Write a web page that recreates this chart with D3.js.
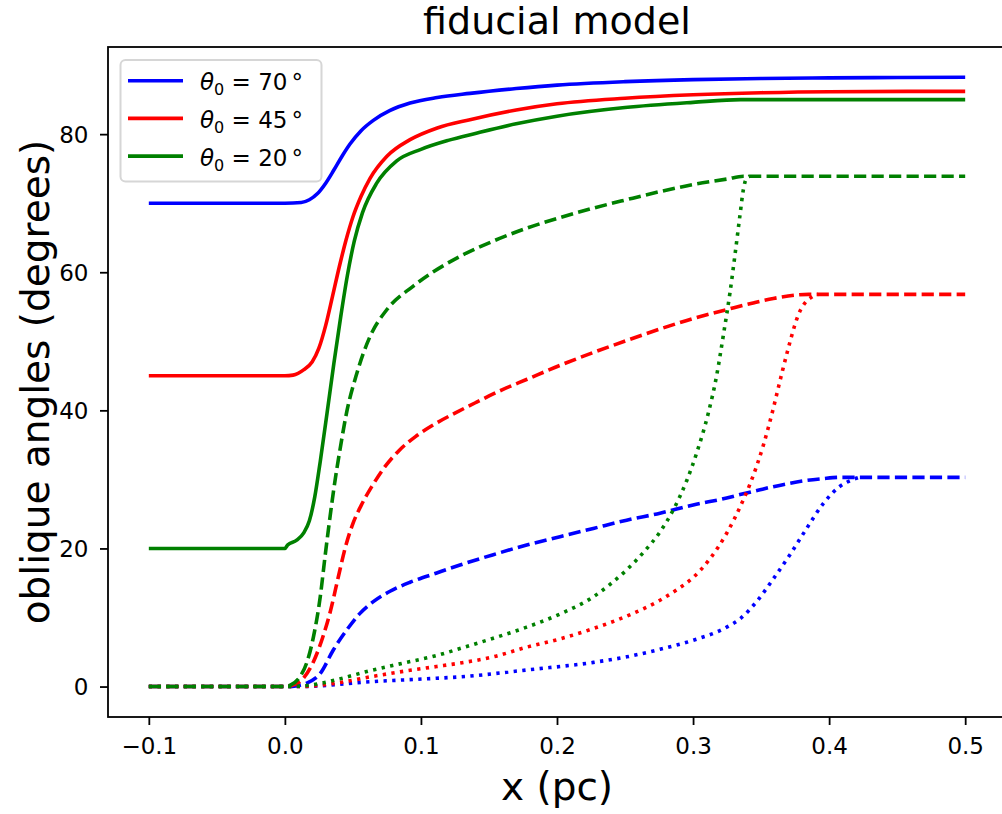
<!DOCTYPE html>
<html>
<head>
<meta charset="utf-8">
<script src="https://cdn.jsdelivr.net/npm/d3@7"></script>
<style>
  body { margin: 0; background: #fff; }
  svg { display: block; font-family: "DejaVu Sans", sans-serif; }
  .axis text { font-size: 23px; fill: #000; font-family: "DejaVu Sans", sans-serif; }
  .axis line { stroke: #000; stroke-width: 1.8; }
  .axis path { display: none; }
</style>
</head>
<body>
<div id="chart"></div>
<script>
// tick values
var xTicks = [-0.1, 0.0, 0.1, 0.2, 0.3, 0.4, 0.5];
var yTicks = [0, 20, 40, 60, 80];

// legend labels (initial angle)
var thetas = ["70", "45", "20"];

// solid curves, [x (pc), angle (deg)]
var solid70 = [[-0.1,70],[0,70],[0.012,70.1],[0.018,70.5],[0.024,71.4],[0.03,72.9],[0.036,74.8],[0.042,76.8],
  [0.048,78.6],[0.056,80.5],[0.065,82.0],[0.077,83.4],[0.092,84.5],[0.112,85.3],[0.136,85.9],[0.17,86.6],
  [0.2,87.1],[0.25,87.6],[0.3,87.9],[0.35,88.05],[0.4,88.15],[0.45,88.2],[0.5,88.25]];
var solid45 = [[-0.1,45],[0,45],[0.006,45.1],[0.014,45.9],[0.02,47.0],[0.025,49.0],[0.03,52.3],[0.035,56.5],
  [0.04,60.8],[0.045,64.7],[0.05,68.0],[0.056,71.0],[0.0626,73.6],[0.075,76.8],[0.092,79.2],[0.112,80.9],
  [0.136,82.1],[0.17,83.5],[0.2,84.4],[0.25,85.2],[0.3,85.7],[0.35,86.0],[0.4,86.15],[0.5,86.2]];
var solid20 = [[-0.1,20],[0,20],[0.002,20.5],[0.0087,21.2],[0.014,22.3],[0.018,24.0],[0.022,27.5],[0.026,32.6],
  [0.031,39.6],[0.036,46.8],[0.041,53.5],[0.046,59.6],[0.051,64.5],[0.057,68.6],[0.0675,72.9],[0.082,76.1],
  [0.1,77.8],[0.12,79.1],[0.14,80.1],[0.17,81.5],[0.2,82.6],[0.25,83.85],[0.3,84.6],[0.335,85.0],[0.5,85.0]];

// dashed curves
var dashed70 = [[-0.1,0],[0,0],[0.008,0.1],[0.016,0.5],[0.026,1.9],[0.0356,5.3],[0.0455,8.2],[0.0552,10.6],
  [0.065,12.3],[0.0773,13.8],[0.092,15.1],[0.1116,16.45],[0.1287,17.6],[0.1532,19.1],[0.1777,20.5],[0.2022,21.7],
  [0.2267,22.9],[0.2512,24.1],[0.2757,25.1],[0.3001,26.3],[0.3247,27.3],[0.3345,27.8],[0.3492,28.5],[0.359,28.95],
  [0.37,29.4],[0.3835,29.85],[0.395,30.1],[0.408,30.3],[0.5,30.3]];
var dashed45 = [[-0.1,0],[0,0],[0.004,0.1],[0.0136,1.2],[0.021,3.6],[0.0276,7.0],[0.0337,11.1],[0.0393,15.9],
  [0.0445,20.2],[0.05,23.6],[0.056,26.2],[0.064,29.0],[0.073,31.7],[0.084,34.2],[0.096,36.2],[0.11,38.0],
  [0.125,39.6],[0.14,41.1],[0.16,43.0],[0.178,44.5],[0.202,46.5],[0.227,48.4],[0.251,50.1],[0.276,51.8],
  [0.3,53.3],[0.325,54.6],[0.345,55.6],[0.359,56.2],[0.376,56.7],[0.385,56.8],[0.5,56.8]];
var dashed20 = [[-0.1,0],[0,0],[0.004,0.2],[0.011,1.4],[0.016,3.4],[0.021,7.2],[0.026,13.0],[0.0295,18.8],
  [0.0332,24.6],[0.0361,28.8],[0.0405,34.3],[0.0455,39.8],[0.0528,45.3],[0.0626,50.7],[0.075,54.6],[0.0944,58.0],
  [0.1287,62.3],[0.153,64.5],[0.178,66.4],[0.202,67.9],[0.227,69.3],[0.251,70.5],[0.276,71.7],[0.300,72.7],
  [0.325,73.5],[0.337,73.9],[0.5,73.9]];

// dotted curves
var dotted70 = [[-0.1,0],[0,0],[0.015,0.02],[0.0626,0.7],[0.1116,1.2],[0.1287,1.4],[0.1777,2.4],[0.2267,3.5],
  [0.2512,4.3],[0.2757,5.4],[0.3001,6.7],[0.3247,8.6],[0.3345,9.8],[0.3467,12.3],[0.359,15.6],[0.3712,19.1],
  [0.3835,22.9],[0.3957,26.5],[0.408,29.0],[0.4165,29.9],[0.422,30.3]];
var dotted45 = [[-0.1,0],[0,0],[0.0136,0.02],[0.038,0.5],[0.0626,1.4],[0.087,2.2],[0.1116,2.9],[0.1287,3.4],
  [0.1532,4.3],[0.1777,5.7],[0.2022,6.9],[0.2267,8.4],[0.2512,10.2],[0.2757,12.5],[0.2879,14.0],[0.3001,15.8],
  [0.3124,18.5],[0.3247,22.2],[0.3357,26.5],[0.3418,29.3],[0.3472,32.2],[0.3516,34.9],[0.3553,37.5],[0.359,40.3],
  [0.3622,42.9],[0.3658,45.8],[0.37,49.0],[0.3744,52.1],[0.3773,53.8],[0.381,55.2],[0.3872,56.4],[0.392,56.8]];
var dotted20 = [[-0.1,0],[0,0],[0.01,0.05],[0.0185,0.2],[0.038,1.0],[0.0626,2.3],[0.087,3.4],[0.1116,4.5],
  [0.1287,5.5],[0.1532,7.0],[0.1777,8.6],[0.2022,10.5],[0.2267,13.0],[0.239,14.8],[0.2512,16.9],[0.2634,19.4],
  [0.2757,22.4],[0.2855,25.6],[0.2953,29.8],[0.3026,33.8],[0.3112,39.6],[0.3173,45.0],[0.3222,50.8],[0.3271,57.0],
  [0.3308,62.5],[0.3345,68.3],[0.337,72.0],[0.339,73.5],[0.3415,73.9]];

// drawing order and styles
var series = [
  {data: solid70, color: "#0000ff", dash: null},
  {data: dashed70, color: "#0000ff", dash: "12.2,5.3"},
  {data: dotted70, color: "#0000ff", dash: "3.3,5.4"},
  {data: solid45, color: "#ff0000", dash: null},
  {data: dashed45, color: "#ff0000", dash: "12.2,5.3"},
  {data: dotted45, color: "#ff0000", dash: "3.3,5.4"},
  {data: solid20, color: "#008000", dash: null},
  {data: dashed20, color: "#008000", dash: "12.2,5.3"},
  {data: dotted20, color: "#008000", dash: "3.3,5.4"}
];
var legendColors = ["#0000ff", "#ff0000", "#008000"];

var width = 1002, height = 814;
var margin = {left: 108, top: 47, right: 1006, bottom: 717};

var x = d3.scaleLinear().domain([-0.13, 0.53]).range([margin.left, margin.right]);
var y = d3.scaleLinear().domain([-4.41, 92.62]).range([margin.bottom, margin.top]);

var svg = d3.select("#chart").append("svg")
  .attr("width", width)
  .attr("height", height);

svg.append("clipPath").attr("id", "clip")
  .append("rect")
  .attr("x", margin.left).attr("y", margin.top)
  .attr("width", margin.right - margin.left)
  .attr("height", margin.bottom - margin.top);

var line = d3.line()
  .x(function(d) { return x(d[0]); })
  .y(function(d) { return y(d[1]); })
  .curve(d3.curveMonotoneX);

var plot = svg.append("g").attr("clip-path", "url(#clip)");
series.forEach(function(s) {
  plot.append("path")
    .attr("d", line(s.data))
    .attr("fill", "none")
    .attr("stroke", s.color)
    .attr("stroke-width", 3.6)
    .attr("stroke-dasharray", s.dash)
    .attr("stroke-linejoin", "round");
});

// axes
svg.append("g")
  .attr("class", "axis")
  .attr("transform", "translate(0," + margin.bottom + ")")
  .call(d3.axisBottom(x).tickValues(xTicks).tickSize(8).tickPadding(13).tickFormat(d3.format(".1f")));
svg.append("g")
  .attr("class", "axis")
  .attr("transform", "translate(" + margin.left + ",0)")
  .call(d3.axisLeft(y).tickValues(yTicks).tickSize(8).tickPadding(11.5).tickFormat(d3.format("d")))
  .selectAll("text").attr("dy", "0.36em");

// frame
svg.append("rect")
  .attr("x", margin.left).attr("y", margin.top)
  .attr("width", margin.right - margin.left)
  .attr("height", margin.bottom - margin.top)
  .attr("fill", "none")
  .attr("stroke", "#000")
  .attr("stroke-width", 1.8);

// title and axis labels
svg.append("text")
  .attr("x", (margin.left + margin.right) / 2).attr("y", 34)
  .attr("text-anchor", "middle")
  .style("font-size", "38px")
  .text("fiducial model");
svg.append("text")
  .attr("x", (margin.left + margin.right) / 2).attr("y", 800)
  .attr("text-anchor", "middle")
  .style("font-size", "39px")
  .text("x (pc)");
svg.append("text")
  .attr("transform", "translate(49," + ((margin.top + margin.bottom) / 2) + ") rotate(-90)")
  .attr("text-anchor", "middle")
  .style("font-size", "39px")
  .text("oblique angles (degrees)");

// legend
var legend = svg.append("g");
legend.append("rect")
  .attr("x", 120.5).attr("y", 60)
  .attr("width", 201).attr("height", 121.5)
  .attr("rx", 5)
  .attr("fill", "#fff").attr("fill-opacity", 0.8)
  .attr("stroke", "#d6d6d6").attr("stroke-width", 2);

thetas.forEach(function(t, i) {
  var ly = 80.7 + i * 37.7;
  legend.append("line")
    .attr("x1", 128).attr("x2", 183)
    .attr("y1", ly).attr("y2", ly)
    .attr("stroke", legendColors[i])
    .attr("stroke-width", 3.6);
  var txt = legend.append("text")
    .attr("x", 200).attr("y", ly + 9.5)
    .style("font-size", "23px");
  txt.append("tspan").style("font-style", "italic").text("θ");
  txt.append("tspan").attr("dy", 5).style("font-size", "16px").text("0");
  txt.append("tspan").attr("dy", -5).text("\u00a0=\u00a0" + t);
  txt.append("tspan").attr("dx", 4).text("°");
});
</script>
</body>
</html>
